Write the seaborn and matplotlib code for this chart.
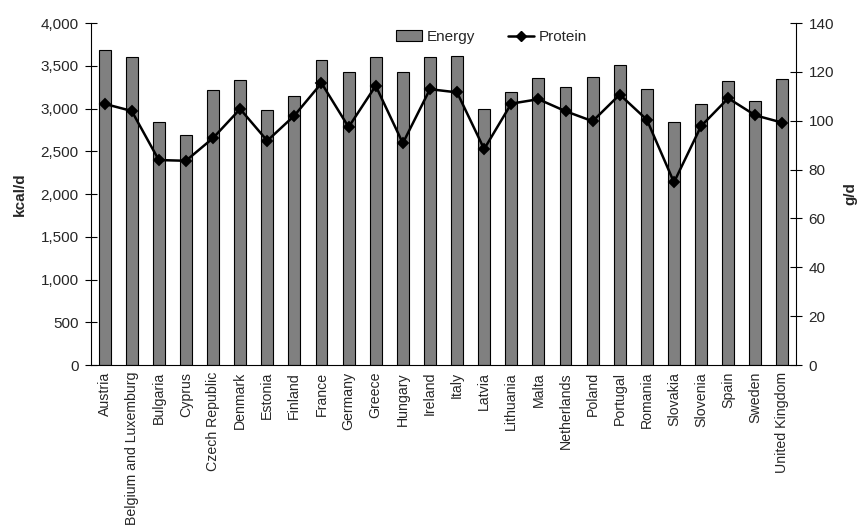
import matplotlib
matplotlib.use("Agg")
import matplotlib.pyplot as plt
import seaborn as sns
import pandas as pd
from matplotlib.patches import Patch
from matplotlib.lines import Line2D
from matplotlib.ticker import FuncFormatter, MultipleLocator, FixedLocator

countries = ["Austria", "Belgium and Luxemburg", "Bulgaria", "Cyprus", "Czech Republic",
             "Denmark", "Estonia", "Finland", "France", "Germany", "Greece", "Hungary",
             "Ireland", "Italy", "Latvia", "Lithuania", "Malta", "Netherlands", "Poland",
             "Portugal", "Romania", "Slovakia", "Slovenia", "Spain", "Sweden", "United Kingdom"]
energy = [3685, 3606, 2842, 2690, 3220, 3330, 2982, 3146, 3565, 3431, 3602, 3427,
          3602, 3616, 2998, 3197, 3361, 3248, 3368, 3505, 3224, 2846, 3053, 3318, 3092, 3349]
protein = [106.9, 104.0, 83.9, 83.6, 92.9, 104.8, 91.8, 102.1, 115.4, 97.4, 114.3, 90.8,
           112.9, 111.6, 88.4, 107.0, 108.8, 103.9, 99.8, 110.7, 100.4, 74.8, 97.8, 109.2,
           102.2, 99.2]

df = pd.DataFrame({"country": countries, "energy": energy, "protein": protein})

sns.set_style("white")
plt.rcParams["font.family"] = ["Liberation Sans", "DejaVu Sans"]
plt.rcParams["font.size"] = 11

FS = 11
XFS = 10.2

fig = plt.figure(figsize=(8.61, 5.30), dpi=100)
ax = fig.add_axes([0.1057, 0.3113, 0.8188, 0.6453])

sns.barplot(data=df, x="country", y="energy", order=countries, color="#808080",
            saturation=1, width=0.44, edgecolor="black", linewidth=0.8, ax=ax)

ax2 = ax.twinx()
sns.pointplot(data=df, x="country", y="protein", order=countries, color="black",
              markers="D", markersize=5.5, linestyles="-", linewidth=1.8, ax=ax2)

n = len(countries)
for a in (ax, ax2):
    a.set_xlim(-0.5, n - 0.5)
    a.set_xlabel("")

ax.set_ylim(0, 4000)
ax.yaxis.set_major_locator(MultipleLocator(500))
ax.yaxis.set_major_formatter(FuncFormatter(lambda v, p: f"{int(v):,}"))
ax2.set_ylim(0, 140)
ax2.yaxis.set_major_locator(MultipleLocator(20))

ax.set_ylabel("kcal/d", fontweight="bold", fontsize=FS, labelpad=10)
ax2.set_ylabel("g/d", fontweight="bold", fontsize=FS, labelpad=7)

# category labels at centers, tick marks at category boundaries
ax.set_xticks(range(n))
ax.set_xticklabels(countries, rotation=90, fontsize=XFS)
ax.tick_params(axis="x", which="major", length=0, pad=5)
ax.xaxis.set_minor_locator(FixedLocator([i - 0.5 for i in range(n + 1)]))
ax.tick_params(axis="x", which="minor", direction="inout", length=7, width=0.8, color="black")
ax2.tick_params(axis="x", which="both", bottom=False, top=False, labelbottom=False)

ax.tick_params(axis="y", direction="inout", length=8, width=0.8, color="black",
               left=True, labelsize=FS, pad=5)
ax2.tick_params(axis="y", direction="inout", length=8, width=0.8, color="black",
                right=True, labelsize=FS, pad=5)

for a in (ax, ax2):
    a.spines["top"].set_visible(False)
    for s in ("left", "right", "bottom"):
        a.spines[s].set_color("black")
        a.spines[s].set_linewidth(0.8)
ax.spines["right"].set_visible(False)
ax2.spines["left"].set_visible(False)
ax2.spines["bottom"].set_visible(False)

handles = [Patch(facecolor="#808080", edgecolor="black", linewidth=0.8),
           Line2D([0], [0], color="black", lw=1.8, marker="D", markersize=5)]
ax.legend(handles, ["Energy", "Protein"], ncol=2, frameon=False, loc="center",
          bbox_to_anchor=(0.568, 0.959), fontsize=FS, handlelength=1.7,
          handletextpad=0.3, columnspacing=2.2)

fig.savefig("out.png", dpi=100)
